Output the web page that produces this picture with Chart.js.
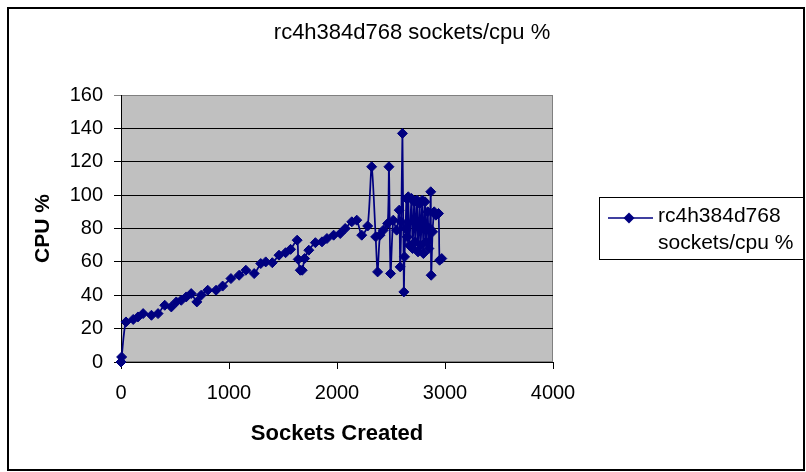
<!DOCTYPE html>
<html>
<head>
<meta charset="utf-8">
<script src="https://cdn.jsdelivr.net/npm/chart.js@4/dist/chart.umd.min.js"></script>
<style>
  html, body { margin: 0; padding: 0; background: #fff; }
  #wrap { width: 806px; height: 472px; }
</style>
</head>
<body>
<div id="wrap"><canvas id="cpu-graphic" width="806" height="472"></canvas></div>
<script>
const titulo = 'rc4h384d768 sockets/cpu %';
const serieNome = ['rc4h384d768', 'sockets/cpu %'];

// sockets criados (x) e cpu % (y)
const sockets = [0, 6, 46, 113, 157, 205, 282, 343, 405, 466, 512, 558, 604, 650, 702, 742, 803, 880, 941, 1018,
  1094, 1156, 1233, 1294, 1340, 1401, 1463, 1524, 1570, 1631, 1641, 1660, 1678, 1700, 1739, 1800, 1861, 1907, 1969, 2030,
  2076, 2137, 2183, 2229, 2284, 2321, 2358, 2376, 2398, 2429, 2469, 2481, 2496, 2521, 2552, 2576, 2585, 2595, 2606, 2619,
  2625, 2635, 2643, 2650, 2660, 2670, 2690, 2700, 2715, 2725, 2740, 2750, 2765, 2775, 2790, 2800, 2815, 2825, 2840, 2850,
  2860, 2868, 2872, 2885, 2900, 2915, 2940, 2950, 2970];
const cpu = [0, 3, 24, 25.5, 27, 29, 28, 29, 34, 33, 36, 37, 39, 41, 36, 40, 43, 43, 45.5, 50,
  52, 55, 53, 59, 60, 59.5, 64, 65.5, 67.5, 73, 61.5, 55, 55, 62, 67, 71.5, 72, 74, 76, 77,
  80, 84, 85, 76, 81.5, 117, 75, 54, 76, 79, 83, 117, 53, 85, 79, 91, 57, 84, 137, 42,
  63, 80, 98, 75, 99, 70, 98, 68, 96, 72, 97, 66, 95, 70, 97, 65, 96, 72, 90, 68,
  80, 102, 52, 78, 90, 88, 89, 61, 62];

const xTicks = [0, 1000, 2000, 3000, 4000];
const yTicks = [0, 20, 40, 60, 80, 100, 120, 140, 160];

const azul = '#000080';
const fonte = 'Liberation Sans, Arial, sans-serif';

const pontos = sockets.map((s, i) => ({ x: s, y: cpu[i] }));

// fundo cinza, moldura, título e legenda no estilo do Excel
const estiloExcel = {
  id: 'estiloExcel',
  beforeDraw(chart) {
    const { ctx, chartArea: a } = chart;
    ctx.save();
    ctx.fillStyle = '#ffffff';
    ctx.fillRect(0, 0, chart.width, chart.height);
    ctx.fillStyle = '#c0c0c0';
    ctx.fillRect(a.left, a.top, a.right - a.left, a.bottom - a.top);
    ctx.strokeStyle = '#808080';
    ctx.lineWidth = 1;
    ctx.strokeRect(a.left + 0.5, a.top + 0.5, a.right - a.left - 1, a.bottom - a.top - 1);
    ctx.restore();
  },
  afterDraw(chart) {
    const { ctx } = chart;
    ctx.save();
    // moldura externa
    ctx.strokeStyle = '#000';
    ctx.lineWidth = 2;
    ctx.strokeRect(8, 8, 796, 462);

    // título
    ctx.fillStyle = '#000';
    ctx.font = '22px ' + fonte;
    ctx.textAlign = 'center';
    ctx.textBaseline = 'middle';
    ctx.fillText(titulo, 412, 33);

    // legenda
    ctx.lineWidth = 1;
    ctx.strokeRect(599.5, 197.5, 204, 62);
    ctx.strokeStyle = azul;
    ctx.lineWidth = 1.5;
    ctx.beginPath();
    ctx.moveTo(608, 218);
    ctx.lineTo(653, 218);
    ctx.stroke();
    ctx.fillStyle = azul;
    ctx.beginPath();
    ctx.moveTo(629, 212.5);
    ctx.lineTo(634.5, 218);
    ctx.lineTo(629, 223.5);
    ctx.lineTo(623.5, 218);
    ctx.closePath();
    ctx.fill();
    ctx.fillStyle = '#000';
    ctx.font = '21px ' + fonte;
    ctx.textAlign = 'left';
    ctx.fillText(serieNome[0], 658, 216);
    ctx.fillText(serieNome[1], 658, 243);
    ctx.restore();
  }
};

const config = {
  type: 'scatter',
  data: {
    datasets: [{
      label: serieNome.join(' '),
      data: pontos,
      showLine: true,
      tension: 0.25,
      clip: false,
      borderColor: azul,
      backgroundColor: azul,
      borderWidth: 1.75,
      pointStyle: 'rectRot',
      pointRadius: 5,
      pointBorderWidth: 1,
      pointBorderColor: azul,
      pointBackgroundColor: azul,
    }]
  },
  options: {
    responsive: false,
    animation: false,
    layout: { padding: { left: 0, right: 253, top: 95, bottom: 0 } },
    plugins: {
      legend: { display: false },
      title: { display: false },
      tooltip: { enabled: false }
    },
    scales: {
      x: {
        type: 'linear',
        min: 0,
        max: 4000,
        afterFit: s => { s.height = 110; },
        afterBuildTicks: s => { s.ticks = xTicks.map(v => ({ value: v })); },
        ticks: {
          color: '#000',
          font: { family: fonte, size: 20 },
          padding: 12,
          callback: v => String(v)
        },
        grid: { drawOnChartArea: false, drawTicks: true, tickLength: 7, color: '#000' },
        border: { display: true, color: '#000', width: 1 },
        title: {
          display: true,
          text: 'Sockets Created',
          color: '#000',
          font: { family: fonte, size: 22, weight: 'bold' },
          padding: { top: 0, bottom: 25 }
        }
      },
      y: {
        min: 0,
        max: 160,
        afterFit: s => { s.width = 121; },
        afterBuildTicks: s => { s.ticks = yTicks.map(v => ({ value: v })); },
        ticks: { color: '#000', font: { family: fonte, size: 20 }, padding: 11 },
        grid: {
          drawTicks: true,
          tickLength: 7,
          color: ctx => (ctx.tick && ctx.tick.value === 160 ? '#808080' : '#000'),
          lineWidth: 1
        },
        border: { display: true, color: '#000', width: 1 },
        title: {
          display: true,
          text: 'CPU %',
          color: '#000',
          font: { family: fonte, size: 21, weight: 'bold' },
          padding: { top: 31, bottom: 0 }
        }
      }
    }
  },
  plugins: [estiloExcel]
};

window.addEventListener('DOMContentLoaded', () => {
  const ctx = document.getElementById('cpu-graphic').getContext('2d');
  new Chart(ctx, config);
});
</script>
</body>
</html>
